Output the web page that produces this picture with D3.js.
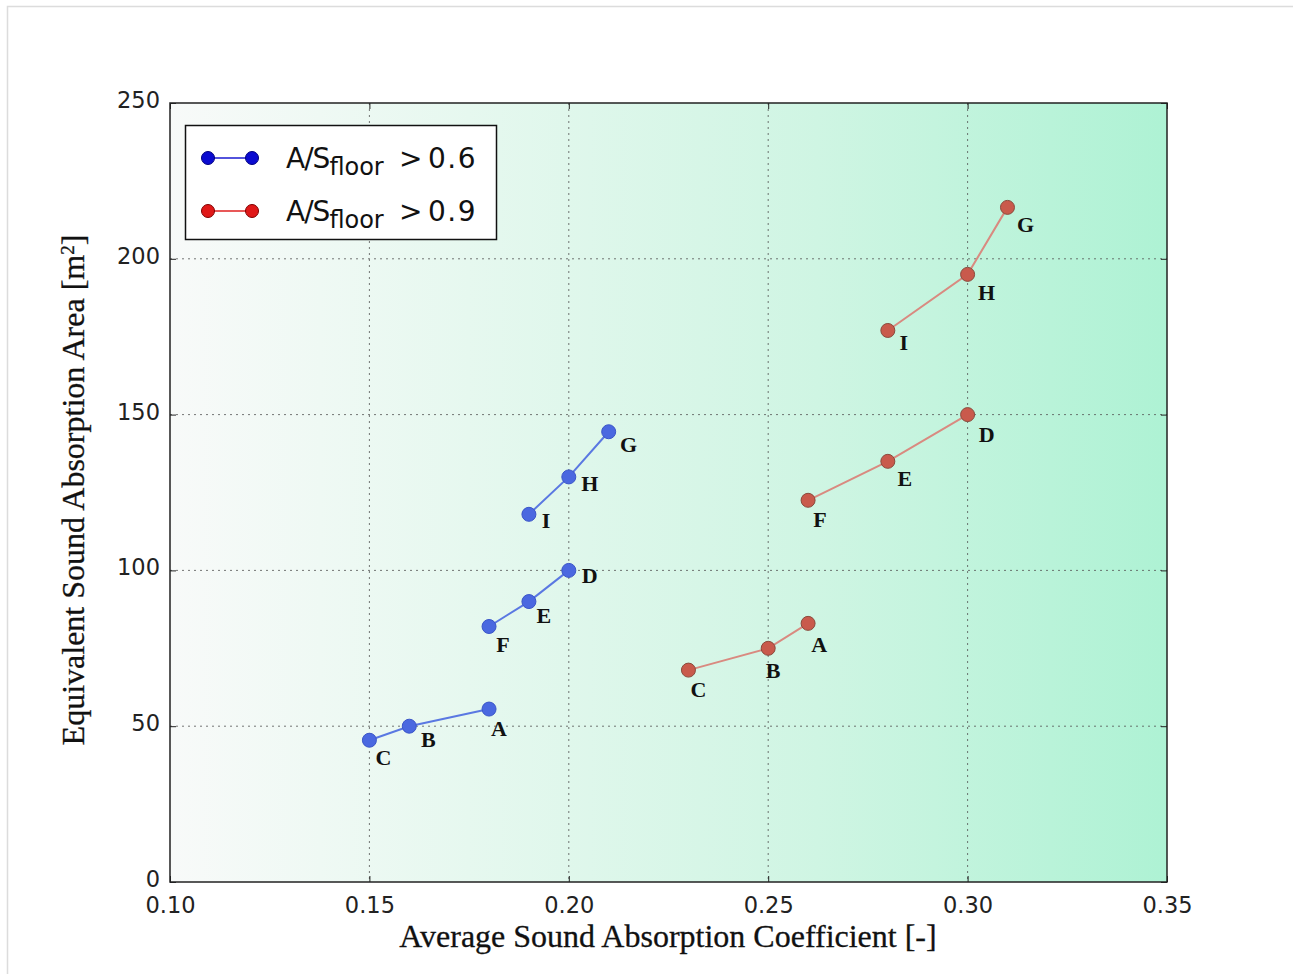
<!DOCTYPE html>
<html>
<head>
<meta charset="utf-8">
<script src="https://cdn.jsdelivr.net/npm/d3@7/dist/d3.min.js"></script>
<style>
  html, body { margin: 0; padding: 0; background: #fff; }
  svg { display: block; }
</style>
</head>
<body>
<svg id="chart" width="1293" height="974"></svg>
<script>
// Case labels, in the order each group is joined by a line
const groups = [["C", "B", "A"], ["F", "E", "D"], ["I", "H", "G"]];

// A/S_floor > 0.6
const lowCoef = { C: 0.15, B: 0.16, A: 0.18, F: 0.18, E: 0.19, D: 0.20, I: 0.19, H: 0.20, G: 0.21 };
const lowArea = { C: 45.5, B: 50, A: 55.5, F: 82, E: 90, D: 100, I: 118, H: 130, G: 144.5 };

// A/S_floor > 0.9
const highCoef = { C: 0.23, B: 0.25, A: 0.26, F: 0.26, E: 0.28, D: 0.30, I: 0.28, H: 0.30, G: 0.31 };
const highArea = { C: 68, B: 75, A: 83, F: 122.5, E: 135, D: 150, I: 177, H: 195, G: 216.5 };

const xTicks = [0.10, 0.15, 0.20, 0.25, 0.30, 0.35];
const yTicks = [0, 50, 100, 150, 200, 250];

const legendLabels = ["0.6", "0.9"];

// ---------------------------------------------------------------
const svg = d3.select("#chart");
const W = 1293, H = 974;
const m = { left: 170, right: 1167, top: 103, bottom: 882 };
const serif = "Liberation Serif, Times New Roman, serif";
const sans = "DejaVu Sans, sans-serif";

// thin outer frame
svg.append("path")
  .attr("d", `M7.5,${H} V6.5 H${W}`)
  .attr("fill", "none").attr("stroke", "#dcdcdc").attr("stroke-width", 1.5);

const x = d3.scaleLinear().domain([0.10, 0.35]).range([m.left, m.right]);
const y = d3.scaleLinear().domain([0, 250]).range([m.bottom, m.top]);

// plot background: white fading into mint green
const defs = svg.append("defs");
const grad = defs.append("linearGradient").attr("id", "bg")
  .attr("x1", "0%").attr("x2", "100%").attr("y1", "0%").attr("y2", "0%");
[["0%", "#f8faf9"], ["30%", "#e6f8ef"], ["65%", "#cff5e3"], ["100%", "#aef2d4"]]
  .forEach(([o, c]) => grad.append("stop").attr("offset", o).attr("stop-color", c));

svg.append("rect")
  .attr("x", m.left).attr("y", m.top)
  .attr("width", m.right - m.left).attr("height", m.bottom - m.top)
  .attr("fill", "url(#bg)");

// dotted grid
const grid = svg.append("g").attr("stroke", "#555").attr("stroke-width", 1)
  .attr("stroke-dasharray", "2,4").attr("opacity", 0.8);
xTicks.slice(1, -1).forEach(t => grid.append("line")
  .attr("x1", x(t)).attr("x2", x(t)).attr("y1", m.top).attr("y2", m.bottom));
yTicks.slice(1, -1).forEach(t => grid.append("line")
  .attr("x1", m.left).attr("x2", m.right).attr("y1", y(t)).attr("y2", y(t)));

// axes with inward ticks on all four sides
const axB = svg.append("g").attr("transform", `translate(0,${m.bottom})`)
  .call(d3.axisBottom(x).tickValues(xTicks).tickFormat(d3.format(".2f")).tickSizeInner(-6).tickSizeOuter(0).tickPadding(15));
const axT = svg.append("g").attr("transform", `translate(0,${m.top})`)
  .call(d3.axisTop(x).tickValues(xTicks).tickFormat("").tickSizeInner(-6).tickSizeOuter(0));
const axL = svg.append("g").attr("transform", `translate(${m.left},0)`)
  .call(d3.axisLeft(y).tickValues(yTicks).tickFormat(d3.format("d")).tickSizeInner(-6).tickSizeOuter(0).tickPadding(10));
const axR = svg.append("g").attr("transform", `translate(${m.right},0)`)
  .call(d3.axisRight(y).tickValues(yTicks).tickFormat("").tickSizeInner(-6).tickSizeOuter(0));
[axB, axT, axL, axR].forEach(a => {
  a.select(".domain").remove();
  a.selectAll(".tick line").attr("stroke", "#222");
  a.selectAll("text").attr("font-family", sans).attr("font-size", 22.5).attr("fill", "#222");
});
axL.selectAll("text").attr("dy", "0.2em");

svg.append("rect")
  .attr("x", m.left).attr("y", m.top)
  .attr("width", m.right - m.left).attr("height", m.bottom - m.top)
  .attr("fill", "none").attr("stroke", "#222").attr("stroke-width", 1.5);

// axis titles
svg.append("text")
  .attr("x", 668).attr("y", 947)
  .attr("text-anchor", "middle")
  .attr("font-family", serif)
  .attr("font-size", 32).attr("fill", "#111")
  .attr("stroke", "#111").attr("stroke-width", 0.3)
  .text("Average Sound Absorption Coefficient [-]");

const yt = svg.append("text")
  .attr("transform", `translate(84,490) rotate(-90)`)
  .attr("text-anchor", "middle")
  .attr("font-family", serif)
  .attr("font-size", 32).attr("fill", "#111")
  .attr("stroke", "#111").attr("stroke-width", 0.3);
yt.append("tspan").text("Equivalent Sound Absorption Area [m");
yt.append("tspan").attr("baseline-shift", "super").attr("font-size", 19).text("2");
yt.append("tspan").text("]");

// series
const series = [
  { coef: lowCoef, area: lowArea, line: "#5a78e2", fill: "#4a68e0", edge: "#3a55c8" },
  { coef: highCoef, area: highArea, line: "#d98a80", fill: "#c95a4c", edge: "#8a4a3c" }
];

// label placement relative to each marker
const labelOffsets = [
  { C: [14, 25], B: [19, 21], A: [10, 27], F: [14, 26], E: [15, 21], D: [21, 13], I: [17, 14], H: [21, 14], G: [20, 20] },
  { C: [10, 27], B: [5, 30], A: [11, 29], F: [12, 27], E: [17, 25], D: [19, 27], I: [16, 20], H: [19, 26], G: [18, 25] }
];

const line = d3.line().x(d => d[0]).y(d => d[1]);

series.forEach((s, si) => {
  const g = svg.append("g");
  groups.forEach(grp => {
    const pts = grp.map(k => [x(s.coef[k]), y(s.area[k])]);
    g.append("path").attr("d", line(pts))
      .attr("fill", "none").attr("stroke", s.line).attr("stroke-width", 2);
  });
  groups.flat().forEach(k => {
    g.append("circle")
      .attr("cx", x(s.coef[k])).attr("cy", y(s.area[k])).attr("r", 7)
      .attr("fill", s.fill).attr("stroke", s.edge).attr("stroke-width", 1);
    const [dx, dy] = labelOffsets[si][k];
    g.append("text")
      .attr("x", x(s.coef[k]) + dx).attr("y", y(s.area[k]) + dy)
      .attr("text-anchor", "middle")
      .attr("font-family", serif)
      .attr("font-weight", "bold").attr("font-size", 22).attr("fill", "#111")
      .text(k);
  });
});

// legend
const lg = svg.append("g");
lg.append("rect").attr("x", 185.5).attr("y", 125.5).attr("width", 311).attr("height", 114)
  .attr("fill", "#fff").attr("stroke", "#111").attr("stroke-width", 1.5);
const legendStyles = [
  { line: "#1a1ad0", fill: "#0a0ad0", edge: "#000080" },
  { line: "#e02020", fill: "#e01818", edge: "#800000" }
];
legendLabels.forEach((lab, i) => {
  const cy = 158 + i * 53;
  const st = legendStyles[i];
  lg.append("line").attr("x1", 208).attr("x2", 252).attr("y1", cy).attr("y2", cy)
    .attr("stroke", st.line).attr("stroke-width", 1.5);
  [208, 252].forEach(cx => lg.append("circle").attr("cx", cx).attr("cy", cy).attr("r", 6.5)
    .attr("fill", st.fill).attr("stroke", st.edge).attr("stroke-width", 1));
  const t = lg.append("text").attr("y", cy + 10)
    .attr("font-family", sans).attr("font-size", 28).attr("fill", "#111");
  t.append("tspan").attr("x", 286).attr("letter-spacing", -1).text("A/S");
  t.append("tspan").attr("dy", 7).attr("font-size", 24).text("floor");
  t.append("tspan").attr("x", 399).attr("dy", -7).text(">");
  t.append("tspan").attr("x", 428).attr("letter-spacing", 1.5).text(lab);
});
</script>
</body>
</html>
